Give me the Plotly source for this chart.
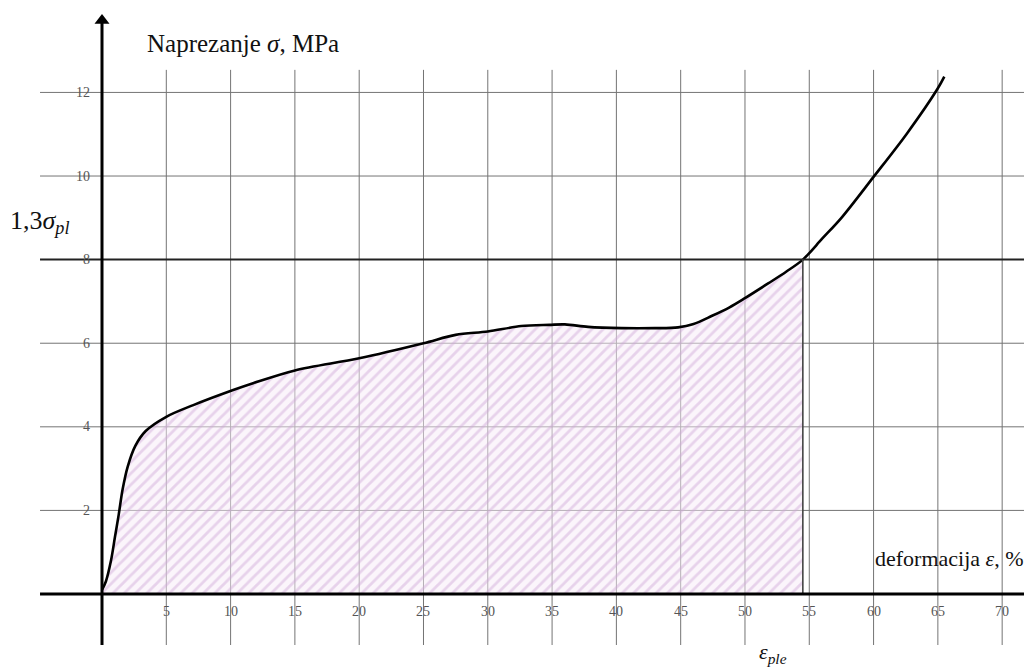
import plotly.graph_objects as go

# ---- data ----
strain = [0.0, 0.3, 0.7, 1.0, 1.3, 1.6, 2.0, 2.6, 3.4, 5.0, 7.1, 10.2, 11.8,
          15.0, 20.0, 25.0, 27.5, 30.0, 32.6, 34.8, 36.0, 37.8, 40.4, 43.0, 44.8,
          46.0, 47.4, 48.8, 50.0, 51.8, 53.2, 54.5, 56.0, 57.5, 60.0, 62.6, 65.0, 65.5]
stress = [0.1, 0.3, 0.8, 1.35, 1.9, 2.5, 3.05, 3.55, 3.9, 4.24, 4.52, 4.88, 5.05,
          5.35, 5.64, 6.0, 6.2, 6.28, 6.41, 6.44, 6.45, 6.39, 6.36, 6.36, 6.38,
          6.46, 6.65, 6.86, 7.08, 7.43, 7.71, 8.0, 8.5, 9.0, 9.98, 11.02, 12.1, 12.38]
eps_ple = 54.5
sigma_level = 8.0
x_ticks = [5, 10, 15, 20, 25, 30, 35, 40, 45, 50, 55, 60, 65, 70]
y_ticks = [2, 4, 6, 8, 10, 12]

# ---- geometry (data coordinates); page body has an 8px margin ----
FIG_W, FIG_H = 1024, 663
X_MIN, X_MAX = -7.31, 72.32
Y_MIN, Y_MAX = -1.842, 14.02
GRID_LEFT = -4.82
GRID_TOP = 12.54
GRID_BOTTOM = -1.22
AXIS_TOP = 13.72

fill_x = [x for x in strain if x <= eps_ple]
fill_y = [y for x, y in zip(strain, stress) if x <= eps_ple]

fig = go.Figure()

# hatched area under the curve
fig.add_trace(go.Scatter(
    x=fill_x, y=fill_y, mode="lines", line=dict(width=0, shape="spline", smoothing=0.8),
    fill="tozeroy", fillcolor="rgba(246,232,246,0.55)",
    fillpattern=dict(shape="/", size=8, solidity=0.35,
                     fgcolor="rgba(205,165,215,0.9)", bgcolor="rgba(248,236,248,0.5)"),
    hoverinfo="skip", showlegend=False))

# stress-strain curve
fig.add_trace(go.Scatter(
    x=strain, y=stress, mode="lines",
    line=dict(color="black", width=2.6, shape="spline", smoothing=0.9),
    showlegend=False))

# axis arrow heads
fig.add_trace(go.Scatter(
    x=[0], y=[AXIS_TOP], mode="markers",
    marker=dict(symbol="triangle-up", size=13, color="black"),
    hoverinfo="skip", showlegend=False))
fig.add_trace(go.Scatter(
    x=[X_MAX - 0.15], y=[0], mode="markers",
    marker=dict(symbol="triangle-right", size=13, color="black"),
    hoverinfo="skip", showlegend=False))

shapes = []
# vertical gridlines
for xv in x_ticks:
    shapes.append(dict(type="line", xref="x", yref="y", x0=xv, x1=xv,
                       y0=GRID_BOTTOM, y1=GRID_TOP, layer="below",
                       line=dict(color="#747474", width=1)))
# horizontal gridlines
for yv in y_ticks:
    if yv == sigma_level:
        continue
    shapes.append(dict(type="line", xref="x", yref="y", x0=GRID_LEFT, x1=X_MAX,
                       y0=yv, y1=yv, layer="below",
                       line=dict(color="#747474", width=1)))
# 1.3 sigma_pl level line
shapes.append(dict(type="line", xref="x", yref="y", x0=GRID_LEFT, x1=X_MAX,
                   y0=sigma_level, y1=sigma_level, layer="above",
                   line=dict(color="#222222", width=2)))
# vertical line at eps_ple
shapes.append(dict(type="line", xref="x", yref="y", x0=eps_ple, x1=eps_ple,
                   y0=0, y1=sigma_level, layer="above",
                   line=dict(color="#444444", width=1.6)))
# axes
shapes.append(dict(type="line", xref="x", yref="y", x0=0, x1=0,
                   y0=GRID_BOTTOM, y1=AXIS_TOP, layer="above",
                   line=dict(color="black", width=3)))
shapes.append(dict(type="line", xref="x", yref="y", x0=GRID_LEFT, x1=X_MAX,
                   y0=0, y1=0, layer="above",
                   line=dict(color="black", width=3)))

annotations = []
serif = "Liberation Serif"
for xv in x_ticks:
    annotations.append(dict(x=xv, y=-0.43, xref="x", yref="y", text=str(xv),
                            showarrow=False, font=dict(family=serif, size=14, color="#555555")))
for yv in y_ticks:
    annotations.append(dict(x=-0.75, y=yv, xref="x", yref="y", text=str(yv),
                            xanchor="right", showarrow=False,
                            font=dict(family=serif, size=14, color="#555555")))

annotations.append(dict(x=3.34, y=13.16, xref="x", yref="y", xanchor="left",
                        text="Naprezanje <i>σ</i>, MPa", showarrow=False,
                        font=dict(family=serif, size=25, color="#111111")))
annotations.append(dict(x=-7.3, y=8.9, xref="x", yref="y", xanchor="left",
                        text="1,3<i>σ<sub>pl</sub></i>", showarrow=False,
                        font=dict(family=serif, size=26, color="#111111")))
annotations.append(dict(x=71.85, y=0.86, xref="x", yref="y", xanchor="right",
                        text="deformacija <i>ε</i>, %", showarrow=False,
                        font=dict(family=serif, size=22, color="#111111")))
annotations.append(dict(x=52.2, y=-1.42, xref="x", yref="y",
                        text="<i>ε<sub>ple</sub></i>", showarrow=False,
                        font=dict(family=serif, size=22, color="#111111")))

fig.update_layout(
    width=FIG_W, height=FIG_H,
    margin=dict(l=0, r=0, t=0, b=0),
    paper_bgcolor="white", plot_bgcolor="white",
    xaxis=dict(range=[X_MIN, X_MAX], visible=False, fixedrange=True),
    yaxis=dict(range=[Y_MIN, Y_MAX], visible=False, fixedrange=True),
    shapes=shapes, annotations=annotations,
)

fig.write_html("out.html")
